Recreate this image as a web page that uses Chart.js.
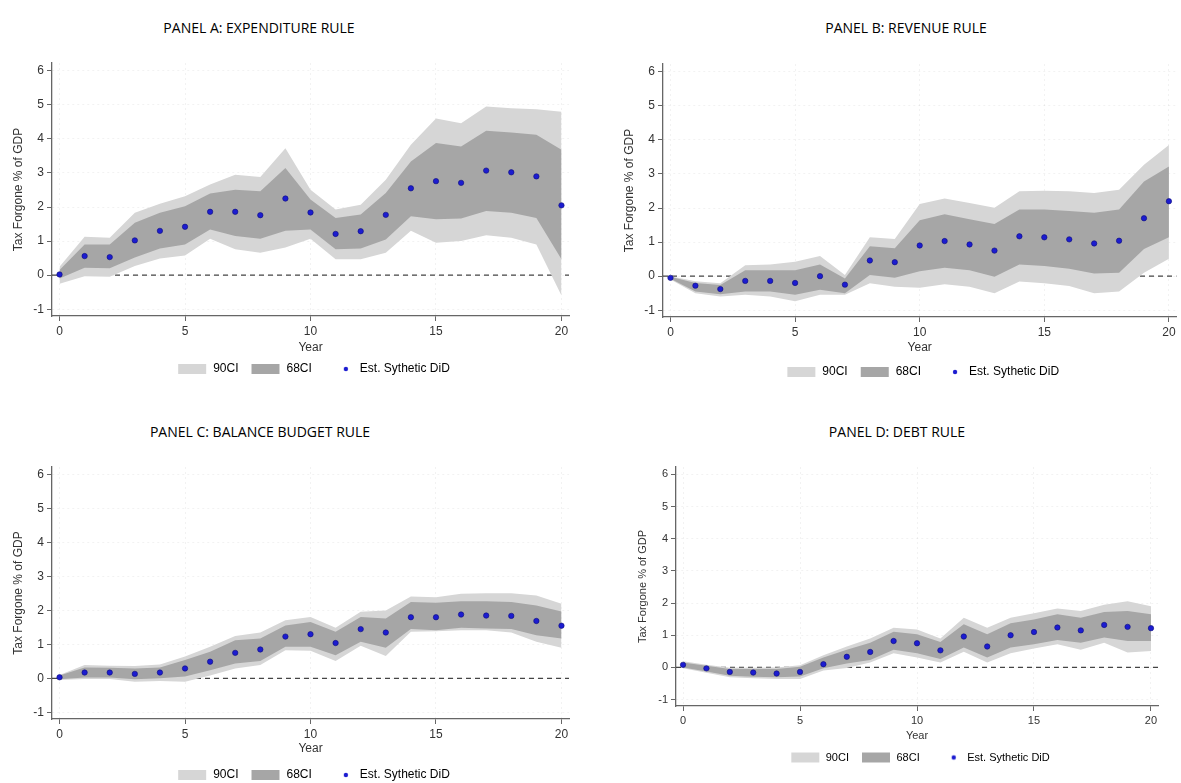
<!DOCTYPE html>
<html>
<head>
<meta charset="utf-8">
<script src="https://cdn.jsdelivr.net/npm/chart.js@4.4.1/dist/chart.umd.min.js"></script>
<style>
  body { margin: 0; background: #fff; width: 1181px; height: 783px; position: relative; overflow: hidden; }
  .ttl { position: absolute; font-family: "Open Sans", sans-serif; font-weight: 400; font-size: 14px; color: #000;
         transform: translate(-50%, -50%); white-space: nowrap; }
  canvas { position: absolute; }
</style>
</head>
<body>
<div class="ttl" style="left:259px; top:27px">PANEL A: EXPENDITURE RULE</div>
<div class="ttl" style="left:906px; top:27px">PANEL B: REVENUE RULE</div>
<div class="ttl" style="left:260px; top:431px">PANEL C: BALANCE BUDGET RULE</div>
<div class="ttl" style="left:897px; top:431px">PANEL D: DEBT RULE</div>
<canvas id="cA"></canvas>
<canvas id="cB"></canvas>
<canvas id="cC"></canvas>
<canvas id="cD"></canvas>
<script>
// x axis: years after adoption
const years = [0,1,2,3,4,5,6,7,8,9,10,11,12,13,14,15,16,17,18,19,20];
const xTicks = [0, 5, 10, 15, 20];
const yTicks = [-1, 0, 1, 2, 3, 4, 5, 6];
const legendLabels = ['90CI', '68CI', 'Est. Sythetic DiD'];

// Panel A: expenditure rule
const estA  = [0.02,0.56,0.53,1.02,1.30,1.42,1.86,1.86,1.76,2.25,1.84,1.21,1.29,1.77,2.55,2.76,2.71,3.07,3.02,2.90,2.05];
const hi68A = [0.15,0.90,0.90,1.54,1.83,2.02,2.40,2.51,2.46,3.15,2.22,1.68,1.78,2.41,3.34,3.88,3.78,4.24,4.19,4.12,3.68];
const lo68A = [-0.10,0.22,0.20,0.52,0.78,0.90,1.34,1.15,1.07,1.30,1.34,0.76,0.78,1.05,1.73,1.64,1.66,1.88,1.83,1.68,0.47];
const hi90A = [0.25,1.13,1.10,1.83,2.10,2.32,2.66,2.95,2.88,3.73,2.51,1.93,2.07,2.80,3.83,4.60,4.46,4.95,4.90,4.87,4.80];
const lo90A = [-0.25,-0.03,-0.05,0.27,0.49,0.58,1.07,0.76,0.66,0.81,1.07,0.47,0.47,0.66,1.30,0.95,1.00,1.17,1.10,0.90,-0.60];

// Panel B: revenue rule
const estB  = [-0.05,-0.28,-0.38,-0.14,-0.14,-0.20,0.00,-0.25,0.46,0.41,0.90,1.03,0.93,0.75,1.17,1.14,1.08,0.96,1.04,1.70,2.20];
const hi68B = [-0.02,-0.20,-0.26,0.17,0.17,0.17,0.34,-0.07,0.88,0.82,1.64,1.82,1.67,1.53,1.96,1.96,1.91,1.86,1.96,2.78,3.22];
const lo68B = [-0.08,-0.45,-0.53,-0.45,-0.45,-0.55,-0.40,-0.50,0.03,-0.05,0.14,0.25,0.17,-0.02,0.34,0.30,0.22,0.08,0.10,0.80,1.14];
const hi90B = [0.00,-0.15,-0.21,0.32,0.34,0.42,0.59,0.03,1.14,1.09,2.12,2.28,2.15,2.01,2.49,2.51,2.49,2.44,2.54,3.27,3.85];
const lo90B = [-0.10,-0.50,-0.60,-0.55,-0.60,-0.74,-0.55,-0.55,-0.21,-0.31,-0.34,-0.24,-0.31,-0.50,-0.16,-0.21,-0.29,-0.50,-0.45,0.10,0.51];

// Panel C: balance budget rule
const estC  = [0.03,0.17,0.17,0.13,0.17,0.29,0.49,0.75,0.85,1.23,1.30,1.04,1.45,1.35,1.80,1.80,1.88,1.85,1.84,1.69,1.55];
const hi68C = [0.08,0.32,0.31,0.29,0.32,0.54,0.78,1.12,1.17,1.56,1.66,1.37,1.81,1.76,2.25,2.23,2.27,2.27,2.25,2.15,1.97];
const lo68C = [-0.03,0.02,0.02,-0.03,0.00,0.05,0.24,0.44,0.51,0.93,0.93,0.68,1.08,0.90,1.45,1.42,1.49,1.47,1.45,1.27,1.17];
const hi90C = [0.10,0.39,0.37,0.36,0.41,0.64,0.93,1.25,1.35,1.71,1.81,1.49,1.96,2.00,2.41,2.39,2.49,2.51,2.51,2.44,2.20];
const lo90C = [-0.05,-0.02,-0.02,-0.10,-0.08,-0.10,0.08,0.29,0.39,0.83,0.81,0.51,0.96,0.66,1.37,1.39,1.42,1.42,1.35,1.08,0.90];

// Panel D: debt rule
const estD  = [0.08,-0.03,-0.14,-0.16,-0.19,-0.14,0.10,0.33,0.48,0.82,0.75,0.53,0.96,0.65,1.00,1.10,1.24,1.15,1.32,1.26,1.22];
const hi68D = [0.15,0.05,-0.05,-0.05,-0.05,0.02,0.31,0.55,0.77,1.11,1.03,0.79,1.34,1.03,1.37,1.49,1.65,1.54,1.72,1.75,1.65];
const lo68D = [0.00,-0.13,-0.26,-0.29,-0.31,-0.28,-0.03,0.12,0.23,0.55,0.44,0.26,0.62,0.31,0.62,0.72,0.85,0.77,0.93,0.82,0.82];
const hi90D = [0.19,0.08,-0.01,-0.01,0.00,0.07,0.38,0.65,0.90,1.23,1.18,0.90,1.54,1.23,1.54,1.68,1.83,1.75,1.95,2.06,1.90];
const lo90D = [-0.03,-0.17,-0.31,-0.34,-0.36,-0.36,-0.10,-0.02,0.15,0.44,0.31,0.15,0.49,0.15,0.44,0.59,0.72,0.55,0.77,0.46,0.51];

// colours
const LIGHT = '#d6d6d6', DARK = '#a6a6a6', DOT = '#1c1cd0', DOT_EDGE = '#0c0c78', AXIS = '#666', TXT = '#333';

// page geometry of each panel (plot box, "Year" line, legend line, y title)
const geoA = { cl: 0,   pl: 52,  pr: 569,  pt: 63,  pb: 318, year: 350, leg: 369, ytx: 19,  fs: 12 };
const geoB = { cl: 600, pl: 663, pr: 1180, pt: 64,  pb: 319, year: 350, leg: 372, ytx: 630, fs: 12 };
const geoC = { cl: 0,   pl: 52,  pr: 569,  pt: 467, pb: 721, year: 751, leg: 775, ytx: 19,  fs: 12 };
const geoD = { cl: 610, pl: 676, pr: 1158, pt: 467, pb: 707, year: 737, leg: 757, ytx: 643, fs: 11 };

// dashed zero line, drawn under the bands
const zeroLine = {
  id: 'zeroLine',
  beforeDatasetsDraw(chart) {
    const { ctx, chartArea } = chart;
    const y = chart.scales.y.getPixelForValue(0);
    ctx.save();
    ctx.strokeStyle = '#444';
    ctx.lineWidth = 1.2;
    ctx.setLineDash([5, 4]);
    ctx.beginPath();
    ctx.moveTo(chartArea.left, y);
    ctx.lineTo(chartArea.right, y);
    ctx.stroke();
    ctx.restore();
  }
};

// little images for the legend keys
function keyBox(color) {
  const c = document.createElement('canvas');
  c.width = 40; c.height = 12;
  const g = c.getContext('2d');
  g.fillStyle = color;
  g.fillRect(9, 1, 28, 10);
  return c;
}
function keyDot() {
  const c = document.createElement('canvas');
  c.width = 40; c.height = 12;
  const g = c.getContext('2d');
  g.fillStyle = DOT;
  g.beginPath(); g.arc(30, 6, 2.2, 0, Math.PI * 2); g.fill();
  return c;
}
const keys = [keyBox(LIGHT), keyBox(DARK), keyDot()];

function pts(vals) {
  return years.map((x, i) => ({ x: x, y: vals[i] }));
}

function makePanel(id, g, est, hi68, lo68, hi90, lo90) {
  const cv = document.getElementById(id);
  const right = Math.min(g.pr + 12, 1181);
  const top = g.pt - 20;
  const bottom = g.leg + 16;
  cv.width = right - g.cl;
  cv.height = bottom - top;
  cv.style.left = g.cl + 'px';
  cv.style.top = top + 'px';
  const half = g.fs * 0.6;
  const font = { size: g.fs, family: 'Arial, "Liberation Sans"' };

  const band = (vals, color, fill) => ({
    data: pts(vals), borderWidth: 0, pointRadius: 0, tension: 0,
    backgroundColor: color, fill: fill
  });

  new Chart(cv.getContext('2d'), {
    type: 'line',
    data: {
      datasets: [
        { data: pts(est), showLine: false, pointRadius: 2.7, pointBackgroundColor: DOT,
          pointBorderColor: DOT_EDGE, pointBorderWidth: 0.6 },
        band(hi68, DARK, '+1'),
        band(lo68, DARK, false),
        band(hi90, LIGHT, '+1'),
        band(lo90, LIGHT, false)
      ]
    },
    options: {
      responsive: false,
      animation: false,
      events: [],
      layout: { padding: { top: 20, right: right - g.pr, left: 0, bottom: 0 } },
      scales: {
        x: {
          type: 'linear', min: -0.3, max: 20.3,
          afterBuildTicks: s => { s.ticks = xTicks.map(v => ({ value: v })); },
          afterFit: s => { s.height = g.leg - 10 - g.pb; },
          ticks: { color: TXT, font: font, padding: 3, maxRotation: 0 },
          grid: { color: 'rgba(0,0,0,0.05)', tickColor: AXIS, tickLength: 5 },
          border: { color: AXIS, width: 1.3, dash: [2, 3] },
          title: { display: true, text: 'Year', color: TXT, font: font,
                   padding: { top: 0, bottom: g.leg - 10 - half - g.year } }
        },
        y: {
          min: -1.2, max: 6.23,
          afterBuildTicks: s => { s.ticks = yTicks.map(v => ({ value: v })); },
          afterFit: s => { s.width = g.pl - g.cl; },
          ticks: { color: TXT, font: font, padding: 3 },
          grid: { color: 'rgba(0,0,0,0.05)', tickColor: AXIS, tickLength: 5 },
          border: { color: AXIS, width: 1.3, dash: [2, 3] },
          title: { display: true, text: 'Tax Forgone % of GDP', color: TXT, font: font,
                   padding: { top: g.ytx - g.cl - half, bottom: 0 } }
        }
      },
      plugins: {
        tooltip: { enabled: false },
        legend: {
          position: 'bottom',
          fullSize: false,
          onClick: null,
          labels: {
            usePointStyle: true,
            pointStyleWidth: 36,
            boxHeight: 12,
            padding: 6,
            color: TXT,
            font: font,
            generateLabels: () => legendLabels.map((t, i) => ({
              text: t, pointStyle: keys[i], fillStyle: 'rgba(0,0,0,0)',
              strokeStyle: 'rgba(0,0,0,0)', lineWidth: 0, hidden: false, datasetIndex: i
            }))
          }
        }
      }
    },
    plugins: [zeroLine]
  });
}

makePanel('cA', geoA, estA, hi68A, lo68A, hi90A, lo90A);
makePanel('cB', geoB, estB, hi68B, lo68B, hi90B, lo90B);
makePanel('cC', geoC, estC, hi68C, lo68C, hi90C, lo90C);
makePanel('cD', geoD, estD, hi68D, lo68D, hi90D, lo90D);
</script>
</body>
</html>
